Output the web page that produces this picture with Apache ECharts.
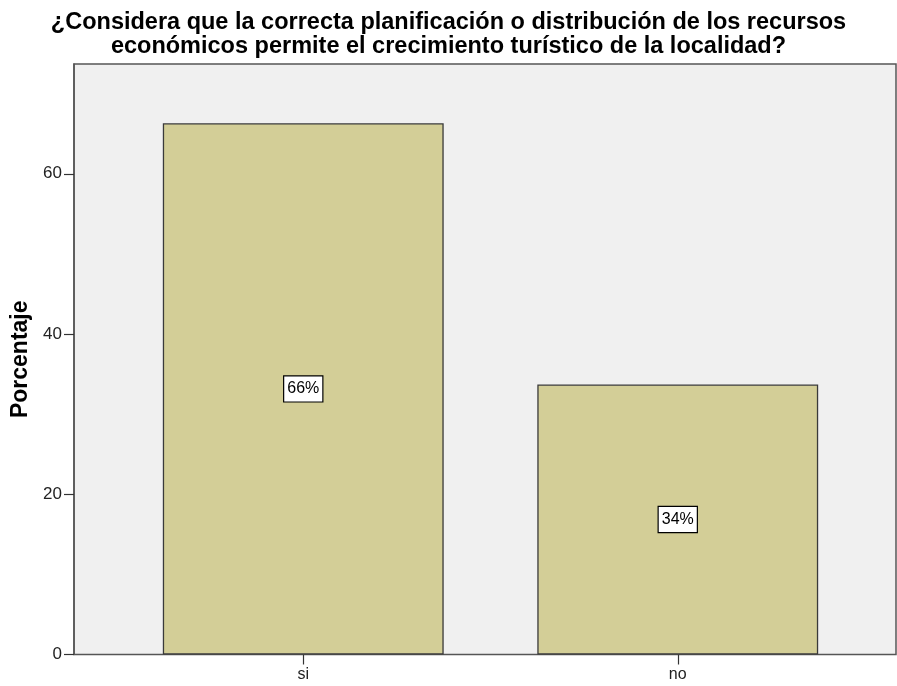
<!DOCTYPE html>
<html>
<head>
<meta charset="utf-8">
<script src="https://cdn.jsdelivr.net/npm/echarts@6/dist/echarts.min.js"></script>
<style>html,body{margin:0;padding:0;background:#fff;}#c{width:897px;height:686px;}</style>
</head>
<body>
<div id="c"></div>
<script>
const titleLines = ['¿Considera que la correcta planificación o distribución de los recursos', 'económicos permite el crecimiento turístico de la localidad?'];
const categories = ['si', 'no'];
const percentValues = [66.3, 33.7];
const barLabels = ['66%', '34%'];
const yTicks = [0, 20, 40, 60];
const yAxisName = 'Porcentaje';

const FONT = 'Liberation Sans, Arial, sans-serif';
const chart = echarts.init(document.getElementById('c'));
const yMax = 73.7;
chart.setOption({
  animation: false,
  textStyle: { fontFamily: FONT },
  title: {
    text: titleLines.join('\n'),
    left: 'center',
    top: 6,
    textStyle: { fontSize: 23.5, fontWeight: 'bold', color: '#000', lineHeight: 24, fontFamily: FONT }
  },
  grid: [
    { left: 74, right: 1, top: 64, bottom: 31.5, show: true, backgroundColor: '#f0f0f0', borderColor: '#555', borderWidth: 1.5 },
    { left: 116, right: 32, top: 64, bottom: 31.5 }
  ],
  xAxis: [
    { gridIndex: 0, type: 'value', show: false, min: 0, max: 1 },
    {
      gridIndex: 1, type: 'category', data: categories,
      axisLine: { show: false },
      axisTick: { show: true, alignWithLabel: true, length: 10, lineStyle: { color: '#333', width: 1.2 } },
      axisLabel: { color: '#222', fontSize: 16, margin: 12, fontFamily: FONT }
    }
  ],
  yAxis: [
    {
      gridIndex: 0, type: 'value', min: 0, max: yMax, interval: 20,
      name: yAxisName, nameLocation: 'middle', nameGap: 40,
      nameTextStyle: { fontSize: 23, fontWeight: 'bold', color: '#000', fontFamily: FONT },
      axisLine: { show: true, lineStyle: { color: '#555', width: 1.5 } },
      axisTick: { show: true, length: 10, lineStyle: { color: '#333', width: 1.2 }, customValues: yTicks },
      axisLabel: { color: '#222', fontSize: 17, margin: 12, customValues: yTicks, fontFamily: FONT },
      splitLine: { show: false }
    },
    { gridIndex: 1, type: 'value', min: 0, max: yMax, show: false, splitLine: { show: false } }
  ],
  series: [{
    type: 'bar',
    xAxisIndex: 1, yAxisIndex: 1,
    data: percentValues,
    barWidth: '75%',
    itemStyle: { color: '#d3ce97', borderColor: '#3a3a3a', borderWidth: 1.3 },
    label: {
      show: true, position: 'inside',
      formatter: p => barLabels[p.dataIndex],
      color: '#000', fontSize: 16, fontFamily: FONT,
      backgroundColor: '#fff', borderColor: '#000', borderWidth: 1.2,
      padding: [5, 3, 4, 3]
    }
  }]
});
</script>
</body>
</html>
